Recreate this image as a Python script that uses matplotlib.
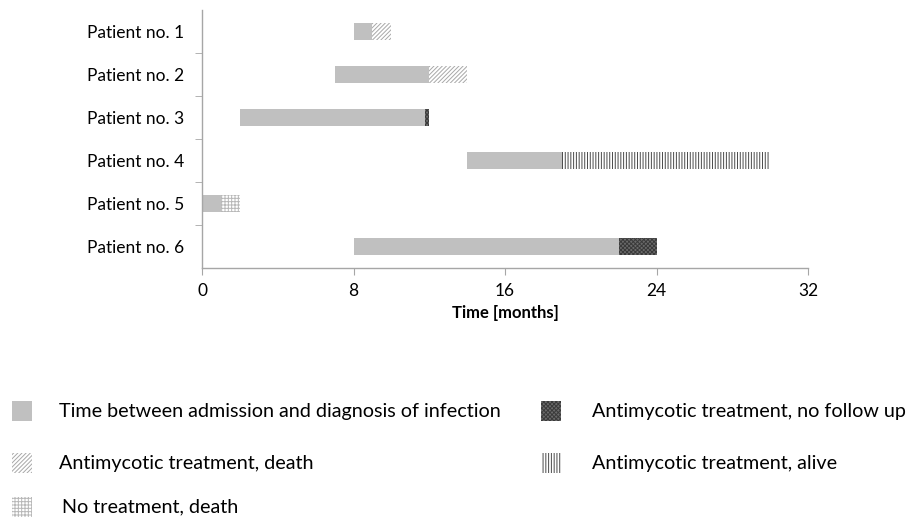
import matplotlib
matplotlib.use("Agg")
import matplotlib.pyplot as plt
from matplotlib.patches import Rectangle

plt.rcParams['font.family'] = ['Lato', 'DejaVu Sans']
plt.rcParams['hatch.linewidth'] = 0.7

patients = ["Patient no. 1", "Patient no. 2", "Patient no. 3",
            "Patient no. 4", "Patient no. 5", "Patient no. 6"]
start = [8, 7, 2, 14, 0, 8]
to_diagnosis = [1, 5, 9.8, 5, 1, 14]
treat_death = [1, 2, 0, 0, 0, 0]
treat_nofollow = [0, 0, 0.2, 0, 0, 2]
treat_alive = [0, 0, 0, 11, 0, 0]
no_treat_death = [0, 0, 0, 0, 1, 0]
xticks = [0, 8, 16, 24, 32]

styles = [
    ("Time between admission and diagnosis of infection", to_diagnosis,
     dict(facecolor='#c0c0c0', edgecolor='#c0c0c0', hatch=None)),
    ("Antimycotic treatment, death", treat_death,
     dict(facecolor='white', edgecolor='#a8a8a8', hatch='////////')),
    ("No treatment, death", no_treat_death,
     dict(facecolor='white', edgecolor='#b8b8b8', hatch='+++++')),
    ("Antimycotic treatment, no follow up", treat_nofollow,
     dict(facecolor='#6a6a6a', edgecolor='#3a3a3a', hatch='xxxxxxxx')),
    ("Antimycotic treatment, alive", treat_alive,
     dict(facecolor='white', edgecolor='#4a4a4a', hatch='||||||')),
]

fig = plt.figure(figsize=(9.11, 5.2), dpi=100)
ax = fig.add_axes([202/911, 1-268/520, (808-202)/911, (268-10)/520])

y = list(range(len(patients)))
left = list(start)
seg_order = [0, 1, 3, 4, 2]
for idx in seg_order:
    label, vals, st = styles[idx]
    ax.barh(y, vals, left=left, height=0.4, linewidth=0, **st)
    left = [l + v for l, v in zip(left, vals)]

ax.set_ylim(5.5, -0.5)
ax.set_xlim(0, 32)
ax.set_xticks(xticks)
ax.set_yticks(y)
ax.set_yticklabels(patients)
ax.set_yticks([i + 0.5 for i in range(len(patients) - 1)], minor=True)
for s in ['top', 'right']:
    ax.spines[s].set_visible(False)
for s in ['left', 'bottom']:
    ax.spines[s].set_color('#a6a6a6')
    ax.spines[s].set_linewidth(1.0)
ax.tick_params(axis='y', which='major', length=0, pad=13, labelsize=12.5)
ax.tick_params(axis='y', which='minor', length=5, color='#a6a6a6', direction='out')
ax.tick_params(axis='x', length=5, color='#a6a6a6', direction='out', labelsize=12.5, pad=6)
ax.set_xlabel("Time [months]", fontweight='bold', fontsize=12, labelpad=4)

# legend drawn manually
col_x = [12, 541]
text_x = [59, 592]
rows_y = [411, 463, 507]
positions = [(0, 0), (0, 1), (0, 2), (1, 0), (1, 1)]
for (label, vals, st), (c, r) in zip(styles, positions):
    px = col_x[c]
    py = rows_y[r]
    rect = Rectangle((px/911, 1-(py+10)/520), 20/911, 20/520,
                     transform=fig.transFigure, linewidth=0, **st)
    fig.add_artist(rect)
    tx = text_x[c] + (3 if r == 2 else 0)
    fig.text(tx/911, 1-py/520, label, fontsize=14.2, va='center', ha='left')

fig.savefig("out.png", dpi=100)
